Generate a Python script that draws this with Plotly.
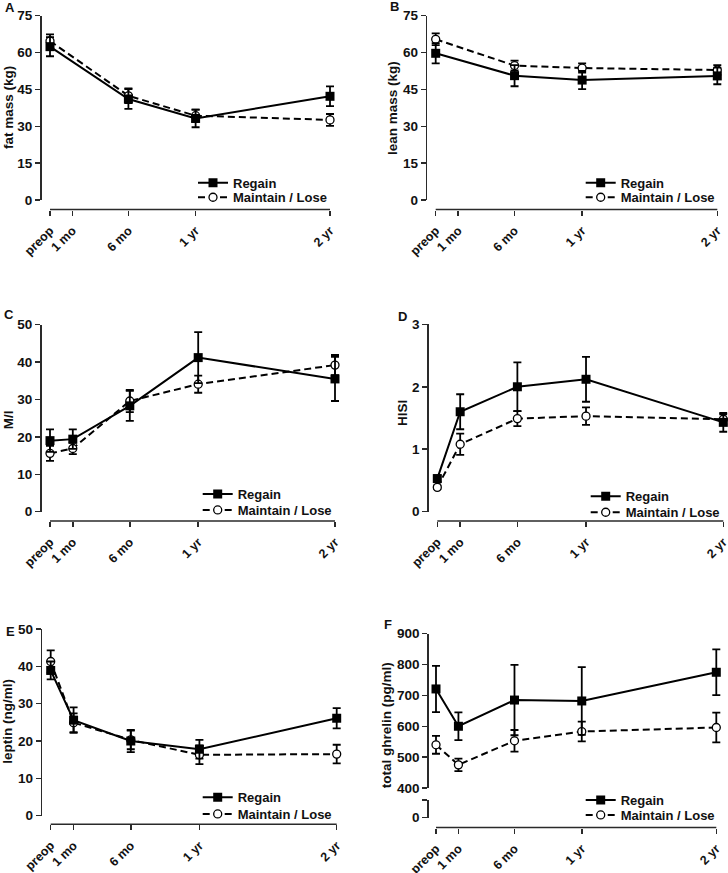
import plotly.graph_objects as go

W, H = 728, 873
FONT = "Liberation Sans, Arial, Helvetica, sans-serif"
AXC = "#2a2a2a"
INK = "#111111"

# ---------------- data ----------------
time_labels = ["preop", "1 mo", "6 mo", "1 yr", "2 yr"]
time_months = [-1, 1, 6, 12, 24]
body_months = [-1, 6, 12, 24]          # fat / lean mass: no 1-month visit

fat_regain = [62.4, 41.1, 33.2, 42.2]
fat_regain_sem = [3.9, 4.0, 3.6, 4.0]
fat_maint = [64.7, 42.4, 34.3, 32.6]
fat_maint_sem = [2.7, 3.0, 2.5, 2.4]

lean_regain = [59.7, 50.6, 48.8, 50.5]
lean_regain_sem = [4.1, 4.3, 3.7, 3.4]
lean_maint = [65.4, 54.7, 53.7, 52.9]
lean_maint_sem = [2.4, 2.0, 1.9, 2.0]

mi_regain = [19.0, 19.4, 28.3, 41.2, 35.5]
mi_regain_sem = [3.0, 2.6, 4.0, 6.8, 5.9]
mi_maint = [15.6, 16.9, 29.6, 34.1, 39.2]
mi_maint_sem = [2.0, 1.5, 3.0, 2.3, 2.7]

hisi_regain = [0.53, 1.60, 2.00, 2.12, 1.43]
hisi_regain_sem = [0.05, 0.28, 0.39, 0.36, 0.15]
hisi_maint = [0.39, 1.08, 1.49, 1.53, 1.48]
hisi_maint_sem = [0.03, 0.17, 0.12, 0.14, 0.08]

leptin_regain = [38.9, 25.6, 20.0, 17.8, 26.1]
leptin_regain_sem = [2.4, 3.4, 3.0, 2.5, 2.7]
leptin_maint = [41.3, 24.9, 20.3, 16.3, 16.5]
leptin_maint_sem = [3.0, 2.5, 2.5, 2.5, 2.5]

ghrelin_regain = [721, 600, 685, 682, 775]
ghrelin_regain_sem = [75, 45, 114, 110, 74]
ghrelin_maint = [540, 475, 553, 583, 596]
ghrelin_maint_sem = [29, 20, 35, 32, 48]

series_names = ["Regain", "Maintain / Lose"]

# ---------------- panel layout (pixel geometry) ----------------
panels = [
    dict(letter="A", title="fat mass (kg)", x=body_months,
         reg=fat_regain, reg_e=fat_regain_sem, mai=fat_maint, mai_e=fat_maint_sem,
         yr=[0, 75], yt=[0, 15, 30, 45, 60, 75],
         yline=40, ytop=15.7, ybot=200, xline=209.5, xpre=50, xend=330,
         leg_x=233, leg_y=[182.7, 197.3], let=(10, 7.5), tit=(8, 108)),
    dict(letter="B", title="lean mass (kg)", x=body_months,
         reg=lean_regain, reg_e=lean_regain_sem, mai=lean_maint, mai_e=lean_maint_sem,
         yr=[0, 75], yt=[0, 15, 30, 45, 60, 75],
         yline=425.7, ytop=15.7, ybot=200, xline=209.5, xpre=435.7, xend=717.3,
         leg_x=620.7, leg_y=[182.7, 197.3], let=(395, 7), tit=(392, 108)),
    dict(letter="C", title="M/I", x=time_months,
         reg=mi_regain, reg_e=mi_regain_sem, mai=mi_maint, mai_e=mi_maint_sem,
         yr=[0, 50], yt=[0, 10, 20, 30, 40, 50],
         yline=40, ytop=324.7, ybot=511.7, xline=521, xpre=50, xend=335,
         leg_x=237.7, leg_y=[494, 510], let=(9, 314), tit=(8.3, 420)),
    dict(letter="D", title="HISI", x=time_months,
         reg=hisi_regain, reg_e=hisi_regain_sem, mai=hisi_maint, mai_e=hisi_maint_sem,
         yr=[0, 3], yt=[0, 1, 2, 3],
         yline=427.3, ytop=324.3, ybot=511.7, xline=521, xpre=437.3, xend=723.3,
         leg_x=625.7, leg_y=[496.3, 512.3], let=(402, 316), tit=(402, 413)),
    dict(letter="E", title="leptin (ng/ml)", x=time_months,
         reg=leptin_regain, reg_e=leptin_regain_sem, mai=leptin_maint, mai_e=leptin_maint_sem,
         yr=[0, 50], yt=[0, 10, 20, 30, 40, 50],
         yline=40.7, ytop=629, ybot=815.7, xline=824.3, xpre=50.7, xend=336.7,
         leg_x=237.7, leg_y=[797.3, 814], let=(10, 631), tit=(6.7, 721)),
    dict(letter="F", title="total ghrelin (pg/ml)", x=time_months,
         reg=ghrelin_regain, reg_e=ghrelin_regain_sem, mai=ghrelin_maint, mai_e=ghrelin_maint_sem,
         yr=[400, 900], yt=[400, 500, 600, 700, 800, 900],
         yline=427.3, ytop=633.7, ybot=788, xline=827.5, xpre=436, xend=716.3,
         leg_x=620.7, leg_y=[800, 815], let=(388, 624), tit=(386.3, 725)),
]


def px(xp):
    return xp / W


def py(yp):
    return 1 - yp / H


fig = go.Figure()
layout = dict(
    width=W, height=H, margin=dict(l=0, r=0, t=0, b=0, pad=0, autoexpand=False),
    paper_bgcolor="white", plot_bgcolor="rgba(0,0,0,0)",
    font=dict(family=FONT, size=13, color=INK, weight="bold"),
    showlegend=True,
    shapes=[], annotations=[],
)

tickfont = dict(family=FONT, size=13.5, color=INK, weight="bold")
xtickfont = dict(family=FONT, size=12.5, color=INK, weight="bold")

for i, p in enumerate(panels, start=1):
    xid = "x" if i == 1 else f"x{i}"
    yid = "y" if i == 1 else f"y{i}"
    xkey = "xaxis" if i == 1 else f"xaxis{i}"
    ykey = "yaxis" if i == 1 else f"yaxis{i}"
    xlo, xhi = min(time_months), max(time_months)
    s = (p["xend"] - p["xpre"]) / (xhi - xlo)
    padl = 9
    padr = min(9, W - p["xend"] - 0.5)
    d0 = px(p["xpre"] - padl)
    d1 = px(p["xend"] + padr)
    layout[xkey] = dict(
        domain=[d0, d1], range=[xlo - padl / s, xhi + padr / s],
        anchor="free", position=py(p["xline"]), automargin=False,
        showline=False, showgrid=False, zeroline=False,
        ticks="outside", ticklen=5, tickwidth=1.5, tickcolor=AXC,
        tickmode="array", tickvals=time_months, ticktext=time_labels,
        tickangle=-45, tickfont=xtickfont, fixedrange=True,
        ticklabeloverflow="allow", ticklabelstandoff=3,
    )
    layout[ykey] = dict(
        domain=[py(p["ybot"]), py(p["ytop"])], range=p["yr"],
        anchor="free", position=px(p["yline"]), automargin=False,
        showline=True, linecolor=AXC, linewidth=1.5,
        showgrid=False, zeroline=False,
        ticks="outside", ticklen=5, tickwidth=1.5, tickcolor=AXC,
        tickmode="array", tickvals=p["yt"], tickfont=tickfont, fixedrange=True,
    )
    # x axis line spans first to last time point (Prism-style offset axis)
    layout["shapes"].append(dict(
        type="line", xref=xid, yref="paper",
        x0=xlo, x1=xhi, y0=py(p["xline"]), y1=py(p["xline"]),
        line=dict(color=AXC, width=1.5), layer="above",
    ))

    leg_r = "legend" if i == 1 else f"legend{2 * i - 1}"
    leg_m = f"legend{2 * i}"
    for key, yc in ((leg_r, p["leg_y"][0]), (leg_m, p["leg_y"][1])):
        layout[key] = dict(
            x=px(p["leg_x"] - 40), y=py(yc), xanchor="left", yanchor="middle",
            bgcolor="rgba(0,0,0,0)", borderwidth=0, itemwidth=30,
            font=dict(family=FONT, size=13, color=INK, weight="bold"),
            itemclick=False, itemdoubleclick=False,
        )
        if key != "legend":
            layout[key]["visible"] = True

    fig.add_trace(go.Scatter(
        x=p["x"], y=p["mai"], name=series_names[1], legend=leg_m,
        mode="lines+markers", xaxis=xid, yaxis=yid, cliponaxis=False,
        showlegend=True,
        line=dict(color="black", width=2, dash="7px,4px"),
        marker=dict(symbol="circle", size=8, color="white",
                    line=dict(color="black", width=1.3)),
        error_y=dict(type="data", array=p["mai_e"], visible=True,
                     color="black", thickness=1.8, width=4),
    ))
    fig.add_trace(go.Scatter(
        x=p["x"], y=p["reg"], name=series_names[0], legend=leg_r,
        mode="lines+markers", xaxis=xid, yaxis=yid, cliponaxis=False,
        showlegend=True,
        line=dict(color="black", width=2),
        marker=dict(symbol="square", size=9, color="black"),
        error_y=dict(type="data", array=p["reg_e"], visible=True,
                     color="black", thickness=1.8, width=4),
    ))

    layout["annotations"].append(dict(
        text=p["letter"], xref="paper", yref="paper",
        x=px(p["let"][0]), y=py(p["let"][1]), showarrow=False,
        xanchor="center", yanchor="middle",
        font=dict(family=FONT, size=13, color=INK, weight="bold"),
    ))
    layout["annotations"].append(dict(
        text=p["title"], xref="paper", yref="paper", textangle=-90,
        x=px(p["tit"][0]), y=py(p["tit"][1]), showarrow=False,
        xanchor="center", yanchor="middle",
        font=dict(family=FONT, size=13.5, color=INK, weight="bold"),
    ))

# Panel F: lower broken-axis segment showing 0
layout["yaxis7"] = dict(
    domain=[py(817.5), py(800)], range=[0, 57],
    anchor="free", position=px(427.3), automargin=False,
    showline=True, linecolor=AXC, linewidth=1.5,
    showgrid=False, zeroline=False,
    ticks="outside", ticklen=5, tickwidth=1.5, tickcolor=AXC,
    tickmode="array", tickvals=[0, 57], ticktext=["0", ""],
    tickfont=tickfont, fixedrange=True,
)
fig.add_trace(go.Scatter(x=[], y=[], xaxis="x6", yaxis="y7",
                         showlegend=False, hoverinfo="skip"))

fig.update_layout(**layout)
fig.write_html(
    "out.html",
    config={"displayModeBar": False, "staticPlot": True},
    post_script="document.body.style.margin='0px';"
                "document.body.style.overflow='hidden';",
)
